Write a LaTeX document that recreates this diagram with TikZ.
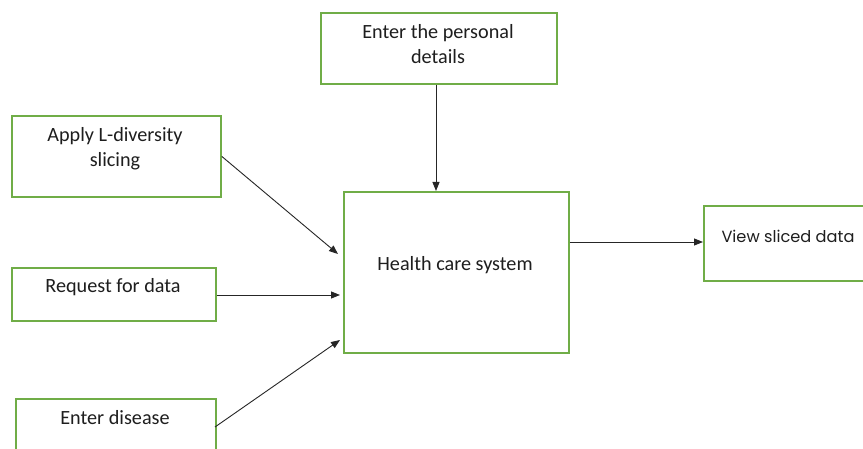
\documentclass[tikz,border=0pt]{standalone}
\usepackage{fontspec}
\setmainfont{Carlito}
\newfontfamily\viewfont{Poppins}
\usetikzlibrary{arrows.meta}
\definecolor{boxgreen}{RGB}{112,173,71}
\definecolor{txt}{RGB}{30,30,30}
\begin{document}
\begin{tikzpicture}[x=1pt,y=-1pt,
  gbox/.style={draw=boxgreen,line width=1.8pt,fill=white,inner sep=0pt,anchor=north west},
  lbl/.style={text=txt,font=\fontsize{20.2}{25}\selectfont,align=center,inner sep=0pt},
  conn/.style={draw=black!85,line width=0.9pt,-{Triangle[length=9pt,width=7pt]}}]
\useasboundingbox (0,0) rectangle (863,449);
\clip (0,0) rectangle (863,449);
\fill[white] (0,0) rectangle (863,449);
% boxes
\node[gbox,minimum width=236pt,minimum height=71pt] (pers) at (320,12) {};
\node[gbox,minimum width=209pt,minimum height=81pt] (apply) at (11,115) {};
\node[gbox,minimum width=204pt,minimum height=53pt] (req) at (11,267) {};
\node[gbox,minimum width=200pt,minimum height=80pt] (dis) at (15,398) {};
\node[gbox,minimum width=225pt,minimum height=161pt] (hcs) at (343,191) {};
\node[gbox,minimum width=180pt,minimum height=75pt] (view) at (703,205) {};
% texts
\node[lbl] (tpers) at (438,44) {Enter the personal\\details};
\node[lbl] (tapply) at (115,149) {Apply L-diversity\\slicing};
\node[lbl] (treq) at (113,287) {Request for data};
\node[lbl] (tdis) at (115,418) {Enter disease};
\node[lbl] (thcs) at (455,265) {Health care system};
\node[lbl,font=\viewfont\fontsize{16.2}{20}\selectfont] (tview) at (788,236) {View sliced data};
% connector ends
\coordinate (e1) at (338,254);
\coordinate (e2) at (340,295);
\coordinate (e3) at (340,340);
\coordinate (s3) at (215,427);
% connectors
\draw[conn] (pers.south -| 436,0) -- (hcs.north -| 436,0);
\draw[conn] (apply.east) -- (e1);
\draw[conn] (req.east |- e2) -- (e2);
\draw[conn] (s3) -- (e3);
\draw[conn] (hcs.east |- 0,242) -- (view.west |- 0,242);
\end{tikzpicture}
\end{document}
